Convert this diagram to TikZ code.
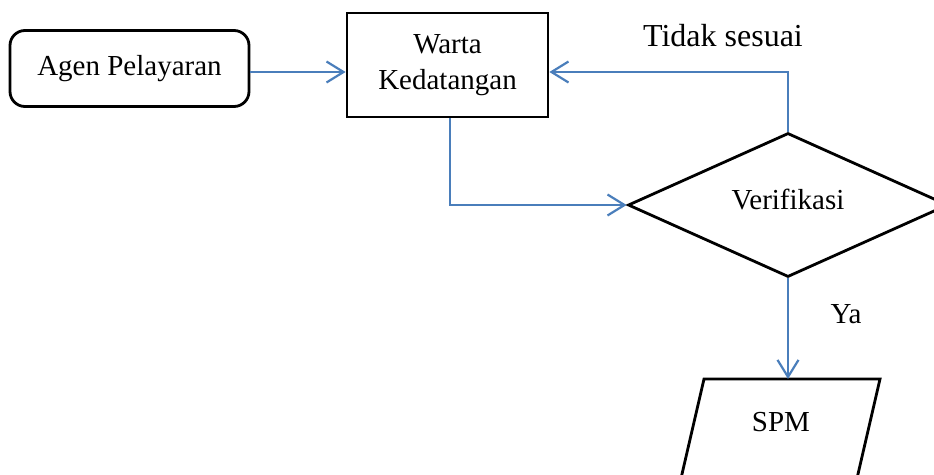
\documentclass[tikz,border=0pt]{standalone}
\usepackage{fontspec}
\setmainfont{Liberation Serif}
\usetikzlibrary{shapes.geometric,arrows.meta,calc}
\definecolor{flowblue}{RGB}{74,126,187}
\begin{document}
\begin{tikzpicture}[x=1pt,y=-1pt,
  every node/.style={font=\fontsize{29}{36}\selectfont},
  box/.style={draw=black, line width=2.8pt, inner sep=0pt},
  flow/.style={draw=flowblue, line width=2.2pt,
    -{Straight Barb[length=17pt,width=21pt,line width=2.2pt]}},
  plain/.style={inner sep=0pt}]
\useasboundingbox (0,0) rectangle (934,474);
\clip (0,0) rectangle (934,474);

% process boxes
\node[box, rounded corners=15pt, minimum width=239pt, minimum height=76pt]
  (agen) at (129.5,68.5) {Agen Pelayaran};
\node[box, minimum width=201pt, minimum height=104pt, align=center]
  (warta) at (447.5,65) {Warta\\Kedatangan};
\node[box, diamond, aspect=2.22, minimum width=320pt, minimum height=144pt,
  text height=20pt, text depth=12pt]
  (verif) at (788,205) {Verifikasi};

% output parallelogram (runs past the lower edge)
\draw[box] (704,379) -- (880,379) -- (852,500) -- (676,500) -- cycle;
\coordinate (spmtop) at (788,379);
\node[plain] (spm) at (781,422) {SPM};

% labels
\node[plain, font=\fontsize{32}{38}\selectfont] (tidak) at (723,36) {Tidak sesuai};
\node[plain] (ya) at (846,314) {Ya};

% connectors
\draw[flow] ([yshift=-3.5pt]agen.east) -- ([yshift=-3.5pt]agen.east -| warta.west);
\draw[flow] (verif.north) |- ([yshift=-7pt]warta.east);
\draw[flow] ([xshift=2.5pt]warta.south) |- (verif.west);
\draw[flow] (verif.south) -- (spmtop);
\end{tikzpicture}
\end{document}
